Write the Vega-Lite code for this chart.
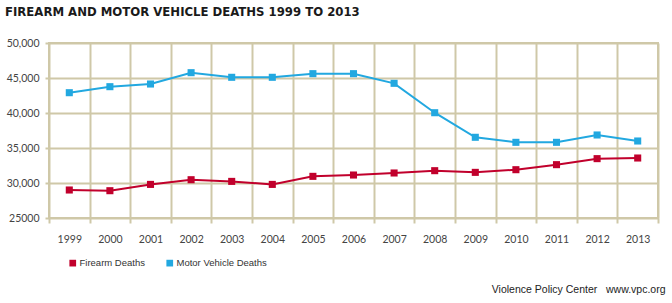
{
  "$schema": "https://vega.github.io/schema/vega-lite/v6.json",
  "width": 609,
  "height": 175,
  "autosize": {"type": "none"},
  "padding": {"left": 49, "top": 43, "right": 14, "bottom": 85},
  "background": "white",
  "title": {
    "text": "FIREARM AND MOTOR VEHICLE DEATHS 1999 TO 2013",
    "anchor": "start",
    "frame": "group",
    "dx": -44,
    "offset": 19,
    "font": "DejaVu Sans Condensed, Roboto Condensed, Roboto, sans-serif",
    "fontWeight": "bold",
    "fontSize": 13,
    "color": "#1a1a1a"
  },
  "config": {
    "view": {"stroke": "#CFC8A8", "strokeWidth": 2},
    "axis": {"labelFont": "Lato", "labelFontSize": 10.5, "labelColor": "#444"}
  },
  "data": {
    "values": [
      {"year": "1999", "series": "Firearm Deaths", "deaths": 29000},
      {"year": "2000", "series": "Firearm Deaths", "deaths": 28900},
      {"year": "2001", "series": "Firearm Deaths", "deaths": 29800},
      {"year": "2002", "series": "Firearm Deaths", "deaths": 30470},
      {"year": "2003", "series": "Firearm Deaths", "deaths": 30230},
      {"year": "2004", "series": "Firearm Deaths", "deaths": 29800},
      {"year": "2005", "series": "Firearm Deaths", "deaths": 30950},
      {"year": "2006", "series": "Firearm Deaths", "deaths": 31140},
      {"year": "2007", "series": "Firearm Deaths", "deaths": 31430},
      {"year": "2008", "series": "Firearm Deaths", "deaths": 31760},
      {"year": "2009", "series": "Firearm Deaths", "deaths": 31520},
      {"year": "2010", "series": "Firearm Deaths", "deaths": 31900},
      {"year": "2011", "series": "Firearm Deaths", "deaths": 32620},
      {"year": "2012", "series": "Firearm Deaths", "deaths": 33480},
      {"year": "2013", "series": "Firearm Deaths", "deaths": 33570},
      {"year": "1999", "series": "Motor Vehicle Deaths", "deaths": 42900},
      {"year": "2000", "series": "Motor Vehicle Deaths", "deaths": 43760},
      {"year": "2001", "series": "Motor Vehicle Deaths", "deaths": 44140},
      {"year": "2002", "series": "Motor Vehicle Deaths", "deaths": 45760},
      {"year": "2003", "series": "Motor Vehicle Deaths", "deaths": 45100},
      {"year": "2004", "series": "Motor Vehicle Deaths", "deaths": 45100},
      {"year": "2005", "series": "Motor Vehicle Deaths", "deaths": 45620},
      {"year": "2006", "series": "Motor Vehicle Deaths", "deaths": 45620},
      {"year": "2007", "series": "Motor Vehicle Deaths", "deaths": 44240},
      {"year": "2008", "series": "Motor Vehicle Deaths", "deaths": 40040},
      {"year": "2009", "series": "Motor Vehicle Deaths", "deaths": 36530},
      {"year": "2010", "series": "Motor Vehicle Deaths", "deaths": 35810},
      {"year": "2011", "series": "Motor Vehicle Deaths", "deaths": 35810},
      {"year": "2012", "series": "Motor Vehicle Deaths", "deaths": 36860},
      {"year": "2013", "series": "Motor Vehicle Deaths", "deaths": 36000}
    ]
  },
  "encoding": {
    "x": {
      "field": "year",
      "type": "ordinal",
      "bandPosition": 0.5,
      "scale": {"type": "band", "paddingInner": 0, "paddingOuter": 0},
      "axis": {
        "tickBand": "extent",
        "labelAngle": 0,
        "labelPadding": 11,
        "grid": true,
        "gridColor": "#CFC8A8",
        "gridWidth": 2,
        "gridOpacity": 1,
        "tickColor": "#CFC8A8",
        "tickWidth": 2,
        "tickSize": 5,
        "domain": false,
        "title": "Violence Policy Center\u00a0\u00a0\u00a0www.vpc.org",
        "titleFont": "Liberation Sans",
        "titleFontSize": 10.5,
        "titleFontWeight": "normal",
        "titleColor": "#222",
        "titleAnchor": "end",
        "titleAlign": "right",
        "titleBaseline": "alphabetic",
        "titleX": 616,
        "titleY": 74
      }
    },
    "y": {
      "field": "deaths",
      "type": "quantitative",
      "scale": {"domain": [25000, 50000], "nice": false, "zero": false},
      "axis": {
        "values": [25000, 30000, 35000, 40000, 45000, 50000],
        "labelExpr": "datum.value == 25000 ? '25000' : format(datum.value, ',')",
        "grid": true,
        "gridColor": "#CFC8A8",
        "gridWidth": 2,
        "gridOpacity": 1,
        "tickColor": "#CFC8A8",
        "tickWidth": 2,
        "tickSize": 4,
        "labelPadding": 6,
        "domain": false,
        "title": null
      }
    },
    "color": {
      "field": "series",
      "type": "nominal",
      "scale": {"domain": ["Firearm Deaths", "Motor Vehicle Deaths"], "range": ["#C1002C", "#22A8E0"]},
      "legend": {
        "orient": "none",
        "direction": "horizontal",
        "legendX": 19,
        "legendY": 215,
        "title": null,
        "symbolType": "square",
        "symbolSize": 45,
        "symbolOpacity": 1,
        "labelFont": "Liberation Sans",
        "labelFontSize": 9.5,
        "labelColor": "#333",
        "labelOffset": 2,
        "columnPadding": 20,
        "encode": {"symbols": {"update": {"fill": {"scale": "color", "field": "value"}, "strokeWidth": {"value": 0}}}}
      }
    }
  },
  "layer": [
    {"mark": {"type": "line", "strokeWidth": 2}},
    {"mark": {"type": "point", "shape": "square", "filled": true, "size": 50, "opacity": 1}}
  ]
}
